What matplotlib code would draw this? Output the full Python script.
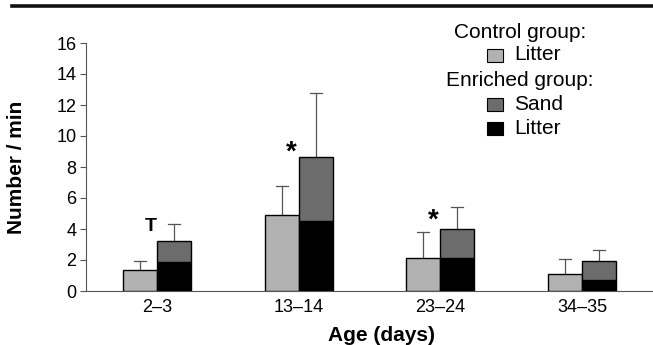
import numpy as np
import matplotlib.pyplot as plt
from matplotlib.lines import Line2D
from matplotlib.patches import Rectangle

plt.rcParams['font.family'] = ['Liberation Sans', 'DejaVu Sans']

# Data
ages = ['2–3', '13–14', '23–24', '34–35']
control_litter = [1.35, 4.9, 2.15, 1.1]
control_err = [1.95, 6.8, 3.8, 2.05]      # top of error bar
enriched_litter = [1.9, 4.5, 2.15, 0.7]
enriched_sand = [1.3, 4.15, 1.85, 1.25]
enriched_err = [4.3, 12.8, 5.4, 2.65]     # top of error bar
marks = ['T', '*', '*', '']
mark_y = [3.87, 8.5, 4.1, 0]

c_light = '#b2b2b2'
c_sand = '#6c6c6c'
c_black = '#000000'

fig = plt.figure(figsize=(6.53, 3.45), dpi=100)
ax = fig.add_axes([86/653, 1 - 291/345, 1 - 86/653, (291 - 43)/345])

x = np.arange(len(ages))
w = 0.24
total = np.array(enriched_litter) + np.array(enriched_sand)

ax.bar(x - w/2, control_litter, w, color=c_light, edgecolor='black', linewidth=1, zorder=3)
ax.bar(x + w/2, enriched_litter, w, color=c_black, edgecolor='black', linewidth=1, zorder=3)
ax.bar(x + w/2, enriched_sand, w, bottom=enriched_litter, color=c_sand, edgecolor='black',
       linewidth=1, zorder=3)

# upper-only error bars
for xi, top, err in zip(x - w/2, control_litter, control_err):
    ax.plot([xi, xi], [top, err], color='#555555', lw=0.9, zorder=2)
    ax.plot([xi - 0.042, xi + 0.042], [err, err], color='#555555', lw=0.9, zorder=2)
for xi, top, err in zip(x + w/2, total, enriched_err):
    ax.plot([xi, xi], [top, err], color='#555555', lw=0.9, zorder=2)
    ax.plot([xi - 0.042, xi + 0.042], [err, err], color='#555555', lw=0.9, zorder=2)

# significance marks
for xi, m, my in zip(x, marks, mark_y):
    if m == 'T':
        ax.text(xi - 0.042, my, m, ha='center', va='baseline', fontsize=14, fontweight='bold')
    elif m == '*':
        ax.text(xi - 0.05, my, m, ha='center', va='baseline', fontsize=20, fontweight='bold')

ax.set_xlim(-0.5, 3.5)
ax.set_ylim(0, 16)
ax.set_yticks(range(0, 17, 2))
ax.set_xticks(x)
ax.set_xticklabels(ages)
ax.tick_params(axis='x', length=0, labelsize=13, pad=6)
ax.tick_params(axis='y', length=4, width=0.8, color='#555555', labelsize=13, pad=3)
for s in ['top', 'right']:
    ax.spines[s].set_visible(False)
ax.spines['left'].set_color('#555555')
ax.spines['bottom'].set_color('#555555')
ax.spines['left'].set_linewidth(0.8)
ax.spines['bottom'].set_linewidth(0.8)

ax.set_ylabel('Number / min', fontsize=15, fontweight='bold')
ax.yaxis.set_label_coords(-(86 - 26)/567, 0.5)
ax.set_xlabel('Age (days)', fontsize=15, fontweight='bold', va='top')
ax.xaxis.set_label_coords((381 - 86)/567, -(326 - 291)/248)

# top rule
fig.add_artist(Line2D([12/653, 1], [1 - 5.5/345, 1 - 5.5/345], color='#111111', lw=2.6))

# legend drawn as text + boxes
lx = 520
rows = [('Control group:', None, 32), ('Litter', c_light, 55), ('Enriched group:', None, 80),
        ('Sand', c_sand, 104), ('Litter', c_black, 128)]
for label, col, py in rows:
    if col is None:
        fig.text(lx/653, 1 - py/345, label, ha='center', va='center', fontsize=15)
    else:
        fig.text(514/653, 1 - py/345, label, ha='left', va='center', fontsize=15)
        fig.add_artist(Rectangle((487/653, 1 - (py + 7)/345), 16/653, 13/345,
                                 facecolor=col, edgecolor='black', lw=0.8,
                                 transform=fig.transFigure))

fig.savefig('out.png', dpi=100)
